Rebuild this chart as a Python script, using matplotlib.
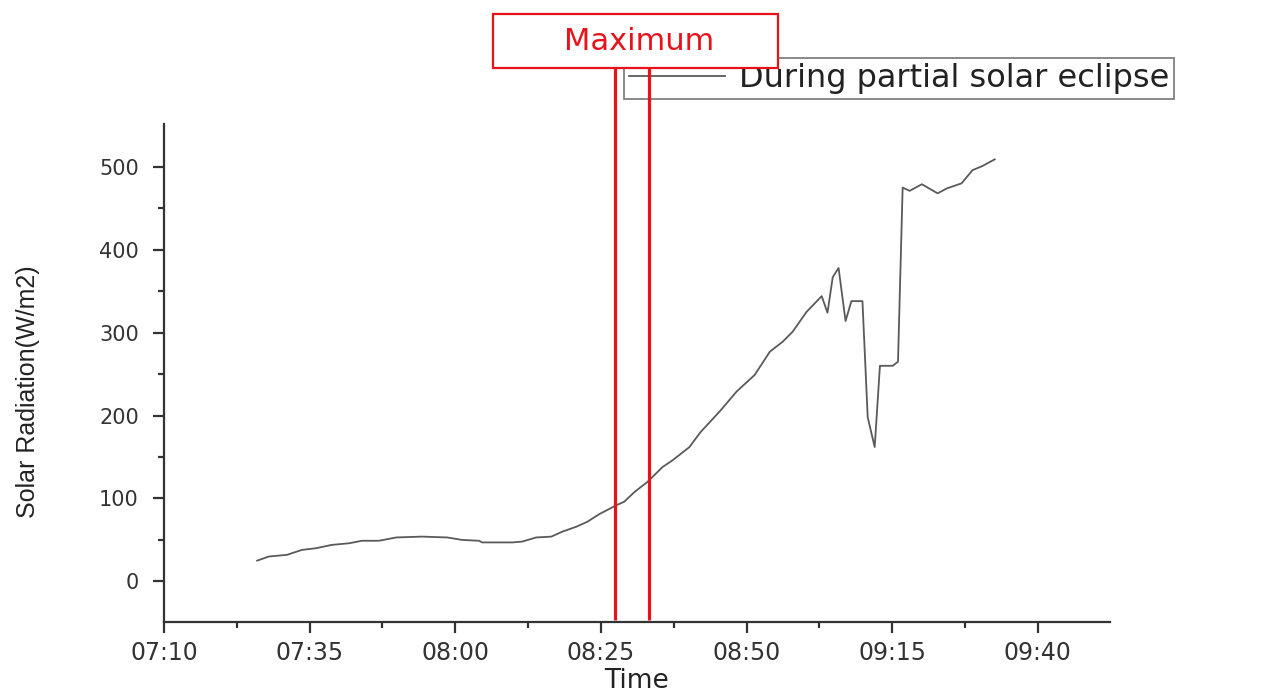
import matplotlib
matplotlib.use('Agg')
import matplotlib.pyplot as plt
import matplotlib.dates as mdates
from matplotlib.patches import Rectangle
import pandas as pd

# readings during the partial solar eclipse
times = ['07:26:00', '07:28:00', '07:31:06', '07:33:42', '07:36:06', '07:38:48',
         '07:41:48', '07:44:00', '07:46:54', '07:49:54', '07:54:18', '07:58:36',
         '08:01:12', '08:04:06', '08:04:36', '08:09:48', '08:11:30', '08:13:54',
         '08:16:30', '08:18:24', '08:20:48', '08:22:42', '08:24:42', '08:27:42',
         '08:29:00', '08:30:48', '08:33:00', '08:35:36', '08:37:18', '08:40:12',
         '08:42:06', '08:45:24', '08:48:18', '08:51:24', '08:54:00', '08:56:12',
         '08:57:54', '09:00:18', '09:02:54', '09:03:54', '09:04:48', '09:05:48',
         '09:07:00', '09:08:00', '09:09:54', '09:10:48', '09:12:00', '09:12:54',
         '09:15:06', '09:16:00', '09:16:48', '09:18:00', '09:20:06', '09:22:48',
         '09:24:24', '09:26:54', '09:28:48', '09:30:30', '09:32:36']
radiation = [25, 30, 32, 38, 40, 44,
             46, 49, 49, 53, 54, 53,
             50, 49, 47, 47, 48, 53,
             54, 60, 66, 72, 81, 92,
             96, 108, 120, 138, 146, 162,
             180, 205, 229, 249, 277, 289,
             301, 325, 344, 324, 367, 378,
             314, 338, 338, 198, 162, 260,
             260, 265, 475, 471, 479, 468,
             474, 480, 496, 501, 509]
series_label = 'During partial solar eclipse'
max_times = ['08:27:30', '08:33:20']
xtick_labels = ['07:10', '07:35', '08:00', '08:25', '08:50', '09:15', '09:40']
yticks = [0, 100, 200, 300, 400, 500]
day = '2020-01-01 '

t = pd.to_datetime([day + s for s in times])
tmax = pd.to_datetime([day + s for s in max_times])
xt = pd.to_datetime([day + s for s in xtick_labels])

fig = plt.figure(figsize=(12.63, 6.96), dpi=100)
ax = fig.add_axes([0.1298, 0.1063, 0.7491, 0.7155])

ax.plot(t, radiation, color='#5a5a5a', lw=1.3, label=series_label)
ax.vlines(tmax, -47, 619, colors='#e8121b', lw=2.3, clip_on=False, zorder=6)

ax.set_xlim(pd.Timestamp(day + '07:10'), pd.Timestamp(day + '09:52:24'))
ax.set_ylim(-49, 551.6)

xnum = mdates.date2num(xt)
ax.set_xticks(xnum)
ax.set_xticklabels(xtick_labels)
ax.set_xticks((xnum[:-1] + xnum[1:]) / 2, minor=True)
ax.set_yticks(yticks)
ax.set_yticks([50, 150, 250, 350, 450], minor=True)

for side in ['top', 'right']:
    ax.spines[side].set_visible(False)
for side in ['left', 'bottom']:
    ax.spines[side].set_linewidth(1.6)
    ax.spines[side].set_color('#333333')
ax.tick_params(which='major', length=8, width=1.6, color='#333333')
ax.tick_params(which='minor', length=4.5, width=1.6, color='#333333')
ax.tick_params(axis='x', labelsize=17, pad=6, labelcolor='#333333')
ax.tick_params(axis='y', labelsize=15, pad=10, labelcolor='#333333')

leg = ax.legend(loc='upper left', bbox_to_anchor=(624 / 1263, 1 - 58 / 696),
                bbox_transform=fig.transFigure, fontsize=23, frameon=True,
                fancybox=False, edgecolor='#808080', framealpha=1,
                handlelength=3.0, handletextpad=0.45, borderpad=0.15,
                borderaxespad=0)
leg.get_frame().set_linewidth(1.3)
for txt in leg.get_texts():
    txt.set_color('#222222')

fig.patches.append(Rectangle((0.3901, 0.9019), 0.2257, 0.078, transform=fig.transFigure,
                             facecolor='white', edgecolor='#e8121b', lw=1.6, zorder=4))
fig.text(0.506, 0.9405, 'Maximum', color='#e8121b', fontsize=22,
         ha='center', va='center', zorder=5)

fig.text(28 / 1263, 0.437, 'Solar Radiation(W/m2)', rotation=90, fontsize=18,
         ha='center', va='center', color='#222222',
         family=['Liberation Sans', 'DejaVu Sans'])
fig.text(0.504, 0.003, 'Time', fontsize=19, ha='center', va='bottom', color='#222222')

fig.savefig('out.png', dpi=100)
